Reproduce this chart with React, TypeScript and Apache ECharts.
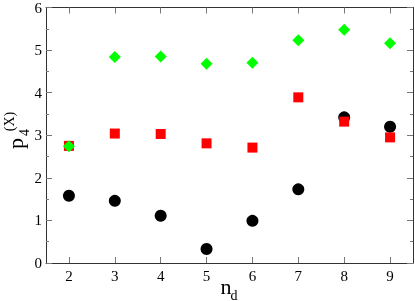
import React, { useEffect, useRef } from "react";
import * as echarts from "echarts";

const nd = [2, 3, 4, 5, 6, 7, 8, 9];
const circleValues = [1.58, 1.46, 1.11, 0.33, 0.99, 1.73, 3.42, 3.2];
const squareValues = [2.75, 3.04, 3.03, 2.81, 2.71, 3.89, 3.32, 2.95];
const diamondValues = [2.74, 4.84, 4.85, 4.68, 4.7, 5.23, 5.48, 5.16];
const xTicks = [2, 3, 4, 5, 6, 7, 8, 9];

const FONT = "Liberation Serif, Times New Roman, serif";

export default function App() {
  const ref = useRef<HTMLDivElement>(null);
  useEffect(() => {
    if (!ref.current) return;
    const chart = echarts.init(ref.current, undefined, { renderer: "svg" });
    const pair = (vals: number[]) => nd.map((x, i) => [x, vals[i]]);
    const lineColor = "#333";
    const tickColor = "#777";
    const xBase = {
      type: "value" as const,
      min: 1.5,
      max: 9.5,
      splitLine: { show: false },
      axisLine: { show: true, onZero: false, lineStyle: { color: lineColor, width: 1 } },
      axisTick: { show: true, inside: true, length: 6, customValues: xTicks, lineStyle: { color: tickColor } },
    };
    const yBase = {
      type: "value" as const,
      min: 0,
      max: 6,
      interval: 1,
      splitLine: { show: false },
      axisLine: { show: true, onZero: false, lineStyle: { color: lineColor, width: 1 } },
      axisTick: { show: true, inside: true, length: 6, lineStyle: { color: tickColor } },
      minorTick: { show: true, splitNumber: 2, length: 3, lineStyle: { color: tickColor } },
    };
    chart.setOption({
      animation: false,
      grid: { left: 46, top: 6, right: 2, bottom: 38, containLabel: false },
      xAxis: [
        {
          ...xBase,
          position: "bottom",
          axisLabel: { show: true, customValues: xTicks, margin: 5, color: "#000", fontFamily: FONT, fontSize: 15 },
        },
        {
          ...xBase,
          position: "top",
          axisLabel: { show: false },
        },
      ],
      yAxis: [
        {
          ...yBase,
          position: "left",
          axisLabel: { show: true, margin: 4, color: "#000", fontFamily: FONT, fontSize: 15 },
        },
        {
          ...yBase,
          position: "right",
          axisLabel: { show: false },
        },
      ],
      series: [
        {
          type: "scatter",
          symbol: "circle",
          symbolSize: 12,
          itemStyle: { color: "#000", opacity: 1 },
          data: pair(circleValues),
          z: 2,
        },
        {
          type: "scatter",
          symbol: "rect",
          symbolSize: 10,
          itemStyle: { color: "#ff0000", opacity: 1 },
          data: pair(squareValues),
          z: 3,
        },
        {
          type: "scatter",
          symbol: "diamond",
          symbolSize: 12,
          itemStyle: { color: "#00ff00", opacity: 1 },
          data: pair(diamondValues),
          z: 4,
        },
      ],
      graphic: [
        { type: "text", x: 15.5, y: 143.5, rotation: Math.PI / 2, style: { text: "p", font: `22px ${FONT}`, fill: "#000", align: "center", verticalAlign: "middle" } },
        { type: "text", x: 24, y: 132.5, rotation: Math.PI / 2, style: { text: "4", font: `14px ${FONT}`, fill: "#000", align: "center", verticalAlign: "middle" } },
        { type: "text", x: 9, y: 121.5, rotation: Math.PI / 2, style: { text: "(X)", font: `14px ${FONT}`, fill: "#000", align: "center", verticalAlign: "middle" } },
        { type: "text", x: 226, y: 286, style: { text: "n", font: `22px ${FONT}`, fill: "#000", align: "center", verticalAlign: "middle" } },
        { type: "text", x: 234, y: 295, style: { text: "d", font: `14px ${FONT}`, fill: "#000", align: "center", verticalAlign: "middle" } },
      ],
    });
    return () => chart.dispose();
  }, []);
  return <div ref={ref} style={{ position: "fixed", left: 0, top: 0, width: 415, height: 301 }} />;
}
